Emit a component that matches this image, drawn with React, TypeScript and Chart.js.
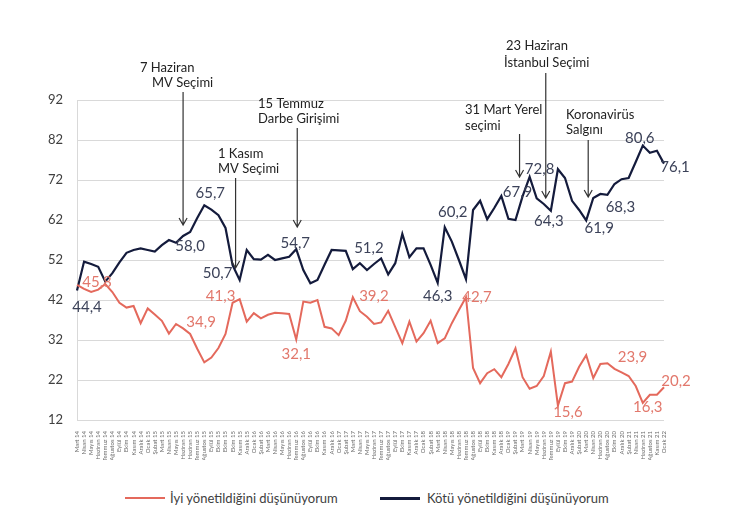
import { useEffect, useRef } from "react"
import { Chart, registerables } from "chart.js"

Chart.register(...registerables)

const FONT = "Lato, 'Open Sans', sans-serif"
const NAVY = "#141b3c"
const RED = "#e4695c"

// survey months (some months have more than one survey around elections)
const months = [
  "Mart 14", "Nisan 14", "Mayıs 14", "Haziran 14", "Temmuz 14", "Ağustos 14", "Eylül 14", "Ekim 14",
  "Kasım 14", "Aralık 14", "Ocak 15", "Şubat 15", "Mart 15", "Nisan 15", "Mayıs 15", "Haziran 15",
  "Haziran 15", "Temmuz 15", "Ağustos 15", "Eylül 15", "Ekim 15", "Ekim 15", "Ekim 15", "Kasım 15",
  "Aralık 15", "Ocak 16", "Şubat 16", "Mart 16", "Nisan 16", "Mayıs 16", "Haziran 16", "Temmuz 16",
  "Ağustos 16", "Eylül 16", "Ekim 16", "Kasım 16", "Aralık 16", "Ocak 17", "Şubat 17", "Mart 17",
  "Nisan 17", "Mayıs 17", "Haziran 17", "Temmuz 17", "Ağustos 17", "Eylül 17", "Ekim 17", "Kasım 17",
  "Aralık 17", "Ocak 18", "Şubat 18", "Mart 18", "Nisan 18", "Mayıs 18", "Haziran 18", "Temmuz 18",
  "Ağustos 18", "Eylül 18", "Ekim 18", "Kasım 18", "Aralık 18", "Ocak 19", "Şubat 19", "Mart 19",
  "Nisan 19", "Mayıs 19", "Haziran 19", "Temmuz 19", "Eylül 19", "Ekim 19", "Aralık 19", "Şubat 20",
  "Mart 20", "Nisan 20", "Haziran 20", "Ağustos 20", "Ekim 20", "Aralık 20", "Şubat 21", "Nisan 21",
  "Haziran 21", "Ağustos 21", "Kasım 21", "Ocak 22",
]

const iyi = [
  45.8, 44.8, 44.0, 44.6, 46.0, 44.0, 41.3, 40.1, 40.5, 36.2, 39.9, 38.4, 36.8, 33.6, 36.0, 34.9,
  33.5, 29.8, 26.4, 27.6, 30.0, 33.5, 41.3, 42.2, 36.6, 38.7, 37.4, 38.3, 38.8, 38.7, 38.5, 32.1,
  41.6, 41.3, 42.0, 35.3, 34.9, 33.2, 36.8, 42.7, 39.2, 37.8, 36.0, 36.4, 39.3, 35.2, 31.2, 36.6,
  31.6, 33.7, 36.8, 31.2, 32.4, 36.2, 39.5, 42.7, 25.0, 21.2, 23.7, 24.7, 22.7, 26.0, 29.9, 22.7,
  19.8, 20.5, 23.0, 29.1, 15.6, 21.2, 21.6, 25.3, 28.2, 22.5, 26.0, 26.2, 24.8, 23.9, 23.0, 20.5,
  16.3, 18.3, 18.3, 20.2,
]

const kotu = [
  44.4, 51.6, 51.0, 50.3, 46.6, 48.7, 51.4, 53.8, 54.5, 54.9, 54.5, 54.1, 55.7, 57.0, 56.3, 58.0,
  59.0, 62.5, 65.7, 64.6, 63.2, 60.0, 50.7, 47.0, 54.5, 52.2, 52.1, 53.3, 52.0, 52.4, 52.8, 54.7,
  49.5, 46.2, 47.0, 50.8, 54.5, 54.4, 54.3, 49.7, 51.2, 49.5, 51.0, 52.4, 48.4, 51.2, 58.5, 52.7,
  54.9, 54.9, 50.8, 46.3, 60.2, 56.6, 52.0, 47.2, 64.5, 66.8, 62.2, 65.0, 68.0, 62.3, 62.0, 67.9,
  72.8, 67.4, 66.0, 64.3, 74.7, 72.5, 66.8, 64.5, 61.9, 67.5, 68.5, 68.3, 71.0, 72.2, 72.5, 76.5,
  80.6, 78.8, 79.3, 76.1,
]

// which points carry a value label, and where the label sits relative to the point
const kotuLabels = [
  { i: 0, dx: 10, dy: 17 }, { i: 15, dx: 7, dy: 10 }, { i: 18, dx: 6, dy: -12 },
  { i: 22, dx: -15, dy: 8 }, { i: 31, dx: -1, dy: -6 }, { i: 40, dx: 9, dy: -15 },
  { i: 51, dx: 0, dy: 13 }, { i: 52, dx: 8, dy: -15 }, { i: 63, dx: -5, dy: -4 },
  { i: 64, dx: 10, dy: -8 }, { i: 67, dx: -2, dy: 10 }, { i: 72, dx: 13, dy: 8 },
  { i: 75, dx: 13, dy: 12 }, { i: 80, dx: -3, dy: -7 }, { i: 83, dx: 11, dy: 4 },
]
const iyiLabels = [
  { i: 0, dx: 20, dy: -3 }, { i: 15, dx: 18, dy: -6 }, { i: 22, dx: -12, dy: -7 },
  { i: 31, dx: 0, dy: 15 }, { i: 40, dx: 14, dy: -15 }, { i: 55, dx: 11, dy: 0 },
  { i: 68, dx: 10, dy: 7 }, { i: 77, dx: 11, dy: -15 }, { i: 80, dx: 5, dy: 4 },
  { i: 83, dx: 12, dy: -6 },
]

const events = [
  { i: 15, dx: 0, top: 92, tip: 60.75, lines: [["7 Haziran", 140, 68], ["MV Seçimi", 152, 83]] },
  { i: 22, dx: 3, top: 178, tip: 50, lines: [["1 Kasım", 218, 154], ["MV Seçimi", 218, 169]] },
  { i: 31, dx: 1, top: 128, tip: 60.25, lines: [["15 Temmuz", 258, 104], ["Darbe Girişimi", 258, 119]] },
  { i: 63, dx: -3, top: 134, tip: 72.75, lines: [["31 Mart Yerel", 465, 110], ["seçimi", 465, 126]] },
  { i: 66, dx: 2, top: 73, tip: 67.5, lines: [["23 Haziran", 506, 46], ["İstanbul Seçimi", 504, 63]] },
  { i: 72, dx: 2, top: 140, tip: 67.75, lines: [["Koronavirüs", 566, 115], ["Salgını", 566, 130]] },
] as const

const fmt = (v: number) => v.toFixed(1).replace(".", ",")

const annotations = {
  id: "annotations",
  afterDatasetsDraw(chart: Chart) {
    const { ctx, scales } = chart
    const x = scales.x
    const y = scales.y
    ctx.save()

    // value labels
    ctx.font = `15px ${FONT}`
    ctx.textAlign = "center"
    ctx.textBaseline = "middle"
    const drawLabels = (list: { i: number; dx: number; dy: number }[], data: number[], color: string) => {
      ctx.fillStyle = color
      list.forEach((l) => {
        const px = x.getPixelForValue(l.i) + l.dx
        const py = y.getPixelForValue(data[l.i]) + l.dy
        ctx.fillText(fmt(data[l.i]), px, py)
      })
    }
    drawLabels(kotuLabels, kotu, "#3c4259")
    drawLabels(iyiLabels, iyi, "#e2786c")

    // events with arrows
    ctx.font = `13px ${FONT}`
    ctx.textAlign = "left"
    ctx.fillStyle = "#222"
    ctx.strokeStyle = "#333"
    ctx.lineWidth = 1.2
    events.forEach((ev) => {
      ev.lines.forEach(([t, tx, ty]) => ctx.fillText(t, tx, ty))
      const ax = x.getPixelForValue(ev.i) + ev.dx
      const tip = y.getPixelForValue(ev.tip)
      ctx.beginPath()
      ctx.moveTo(ax, ev.top)
      ctx.lineTo(ax, tip)
      ctx.moveTo(ax - 4, tip - 7)
      ctx.lineTo(ax, tip)
      ctx.lineTo(ax + 4, tip - 7)
      ctx.stroke()
    })
    ctx.restore()
  },
}

export default function App() {
  const chartRef = useRef<HTMLCanvasElement>(null)
  const chartInstance = useRef<Chart | null>(null)

  useEffect(() => {
    if (!chartRef.current) return
    if (chartInstance.current) chartInstance.current.destroy()

    chartInstance.current = new Chart(chartRef.current, {
      type: "line",
      data: {
        labels: months,
        datasets: [
          {
            label: "İyi yönetildiğini düşünüyorum",
            data: iyi,
            borderColor: RED,
            borderWidth: 2,
            pointRadius: 0,
            tension: 0,
            clip: false,
          },
          {
            label: "Kötü yönetildiğini düşünüyorum",
            data: kotu,
            borderColor: NAVY,
            borderWidth: 2.2,
            pointRadius: 0,
            tension: 0,
            clip: false,
          },
        ],
      },
      options: {
        responsive: false,
        animation: false,
        layout: { padding: { top: 100, right: 76, bottom: 0, left: 0 } },
        plugins: {
          legend: { display: false },
          tooltip: { enabled: false },
        },
        scales: {
          x: {
            offset: false,
            grid: { display: false },
            border: { display: false },
            ticks: {
              autoSkip: false,
              minRotation: 90,
              maxRotation: 90,
              padding: 3,
              color: "#6a6a6a",
              font: { family: FONT, size: 6 },
            },
            afterFit: (s) => {
              s.height = 40
            },
          },
          y: {
            min: 12,
            max: 92,
            ticks: {
              stepSize: 10,
              padding: 14,
              color: "#404040",
              font: { family: FONT, size: 13 },
            },
            grid: { color: "#d9d9d9", lineWidth: 1, drawTicks: false },
            border: { display: true, color: "#d9d9d9" },
            afterFit: (s) => {
              s.width = 77
            },
          },
        },
      },
      plugins: [annotations],
    })

    return () => {
      if (chartInstance.current) {
        chartInstance.current.destroy()
        chartInstance.current = null
      }
    }
  }, [])

  const legendText = { position: "absolute" as const, top: 489, fontFamily: FONT, fontSize: 13, lineHeight: "18px", color: "#404040" }

  return (
    <div style={{ position: "fixed", left: 0, top: 0, width: 740, height: 532, background: "#fff" }}>
      <canvas ref={chartRef} width={740} height={460} />
      <span style={{ position: "absolute", left: 125, top: 497, width: 40, height: 2, background: RED }} />
      <span style={{ ...legendText, left: 170 }}>İyi yönetildiğini düşünüyorum</span>
      <span style={{ position: "absolute", left: 380, top: 497, width: 40, height: 2.5, background: NAVY }} />
      <span style={{ ...legendText, left: 427 }}>Kötü yönetildiğini düşünüyorum</span>
    </div>
  )
}
